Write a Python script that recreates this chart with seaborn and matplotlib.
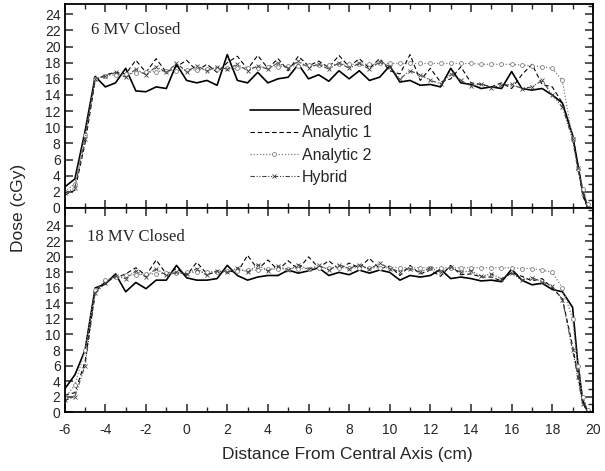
import numpy as np
import pandas as pd
import matplotlib
matplotlib.use('Agg')
import matplotlib.pyplot as plt
from matplotlib.ticker import MultipleLocator
import seaborn as sns

# Sample positions (cm from central axis)
x_cm = [-6, -5.5, -5, -4.5, -4, -3.5, -3, -2.5, -2, -1.5, -1, -0.5, 0, 0.5, 1, 1.5,
        2, 2.5, 3, 3.5, 4, 4.5, 5, 5.5, 6, 6.5, 7, 7.5, 8, 8.5, 9, 9.5, 10, 10.5,
        11, 11.5, 12, 12.5, 13, 13.5, 14, 14.5, 15, 15.5, 16, 16.5, 17, 17.5, 18,
        18.5, 19, 19.25, 19.5, 19.75]

# 6 MV closed
mv6_measured = [2.6, 3.6, 9.5, 16.3, 15.0, 15.5, 17.3, 14.5, 14.4, 15.0, 14.8, 17.8, 15.8, 15.5, 15.8, 15.2,
                19.0, 15.8, 15.5, 16.8, 15.5, 16.0, 16.2, 17.8, 16.0, 16.5, 15.7, 17.0, 16.0, 17.0, 15.8, 16.2,
                17.6, 15.6, 15.8, 15.2, 15.3, 15.0, 17.3, 15.5, 15.3, 14.8, 15.0, 14.8, 16.9, 14.8, 14.6, 14.8,
                14.0, 13.0, 9.0, 5.5, 2.0, 0.0]
mv6_analytic1 = [1.6, 2.2, 8.0, 15.8, 16.5, 16.8, 16.6, 18.3, 16.8, 18.5, 16.8, 17.5, 18.3, 17.0, 17.8, 16.8,
                 18.0, 18.8, 17.2, 18.9, 17.3, 18.5, 17.0, 18.8, 17.6, 18.2, 17.4, 18.9, 17.5, 18.5, 17.3, 18.5,
                 17.0, 16.6, 19.0, 15.8, 17.3, 15.6, 16.0, 17.5, 15.5, 15.3, 15.0, 15.5, 14.8, 16.5, 17.8, 15.3,
                 15.0, 13.0, 9.0, 5.5, 1.5, 0.0]
mv6_analytic2 = [2.0, 3.0, 9.0, 16.0, 16.4, 16.5, 16.6, 16.7, 16.8, 16.9, 17.0, 17.0, 17.1, 17.1, 17.2, 17.2,
                 17.3, 17.3, 17.4, 17.4, 17.5, 17.5, 17.6, 17.6, 17.7, 17.7, 17.7, 17.8, 17.8, 17.8, 17.8, 17.9,
                 17.9, 17.9, 17.9, 17.9, 17.9, 17.9, 17.9, 17.9, 17.9, 17.8, 17.8, 17.8, 17.8, 17.7, 17.6, 17.5,
                 17.3, 15.8, 8.5, 4.8, 2.4, 0.5]
mv6_hybrid = [1.8, 2.5, 8.5, 16.0, 16.3, 16.8, 16.2, 17.2, 16.5, 17.5, 16.8, 17.9, 16.9, 17.6, 17.0, 17.5,
              17.2, 17.8, 17.0, 17.6, 17.2, 18.0, 17.3, 18.2, 17.4, 17.8, 17.2, 18.0, 17.3, 17.9, 17.2, 18.1,
              17.5, 16.0, 17.0, 16.5, 15.8, 15.4, 16.6, 15.8, 15.1, 15.4, 14.9, 15.2, 15.3, 14.8, 15.0, 15.8,
              14.0, 12.5, 8.5, 5.0, 1.8, 0.0]

# 18 MV closed
mv18_measured = [3.0, 4.8, 8.0, 16.0, 16.5, 17.8, 15.5, 16.7, 15.9, 17.0, 17.0, 18.9, 17.3, 17.0, 17.0, 17.2,
                 18.9, 17.6, 17.0, 17.4, 17.6, 17.6, 18.3, 17.9, 18.2, 18.6, 17.6, 18.0, 17.7, 18.3, 17.9, 18.3,
                 18.0, 17.0, 17.6, 17.4, 17.6, 18.4, 17.2, 17.4, 17.2, 16.9, 17.0, 16.8, 18.4, 17.0, 16.4, 16.6,
                 15.8, 15.5, 13.5, 6.5, 1.5, 0.0]
mv18_analytic1 = [2.2, 2.5, 6.5, 15.5, 16.8, 17.3, 17.8, 18.6, 17.6, 19.6, 17.8, 18.5, 17.6, 19.3, 17.8, 18.0,
                  18.2, 18.0, 20.2, 18.4, 19.6, 18.3, 19.5, 18.4, 20.0, 18.6, 19.5, 18.4, 19.2, 18.6, 19.8, 18.5,
                  18.8, 17.6, 18.9, 17.8, 18.3, 17.5, 18.9, 17.7, 17.8, 17.4, 17.4, 16.9, 18.0, 17.5, 16.9, 17.2,
                  16.0, 14.6, 8.5, 5.0, 1.2, 0.0]
mv18_analytic2 = [1.8, 3.5, 8.0, 15.7, 17.0, 17.4, 17.6, 17.7, 17.8, 17.8, 17.9, 17.9, 18.0, 18.0, 18.1, 18.1,
                  18.2, 18.2, 18.3, 18.3, 18.4, 18.4, 18.5, 18.5, 18.5, 18.6, 18.6, 18.6, 18.6, 18.6, 18.6, 18.6,
                  18.6, 18.6, 18.6, 18.6, 18.6, 18.6, 18.6, 18.6, 18.6, 18.6, 18.6, 18.6, 18.6, 18.5, 18.5, 18.3,
                  18.0, 16.0, 12.0, 6.0, 2.0, 0.3]
mv18_hybrid = [1.5, 2.0, 6.0, 15.3, 16.6, 17.5, 17.2, 18.2, 17.4, 18.5, 17.6, 18.0, 17.8, 18.5, 17.6, 18.2,
               18.0, 18.6, 18.0, 19.0, 18.2, 18.8, 18.3, 19.0, 18.4, 18.9, 18.3, 19.0, 18.5, 19.0, 18.4, 19.2,
               18.5, 18.1, 18.5, 18.0, 18.6, 18.0, 18.7, 18.0, 18.2, 17.5, 17.8, 17.2, 17.9, 17.0, 17.3, 16.8,
               16.2, 14.5, 8.0, 4.5, 1.0, 0.0]

labels = ['Measured', 'Analytic 1', 'Analytic 2', 'Hybrid']
panels = [('6 MV Closed', [mv6_measured, mv6_analytic1, mv6_analytic2, mv6_hybrid]),
          ('18 MV Closed', [mv18_measured, mv18_analytic1, mv18_analytic2, mv18_hybrid])]

styles = [dict(color='black', linestyle='-', linewidth=1.2),
          dict(color='black', linestyle=(0, (4, 2.5)), linewidth=0.8),
          dict(color='#808080', linestyle=(0, (1, 1.5)), linewidth=0.9),
          dict(color='#444444', linestyle=(0, (4, 1.5, 1, 1.5, 1, 1.5)), linewidth=0.8)]
markers = [None, None, 'o', 'x']

sns.set_style('ticks')
plt.rcParams['font.family'] = ['Liberation Sans', 'DejaVu Sans']
plt.rcParams['axes.unicode_minus'] = False

fig, axes = plt.subplots(2, 1, figsize=(6.05, 4.71), dpi=100, sharex=True)
fig.subplots_adjust(left=0.107, right=0.98, top=0.992, bottom=0.125, hspace=0)

ylims = [25.3, 26.3]
title_pos = [(0.049, 0.872), (0.042, 0.859)]

for i, (ax, (title, series)) in enumerate(zip(axes, panels)):
    for lab, vals, st, mk in zip(labels, series, styles, markers):
        sns.lineplot(x=x_cm, y=vals, ax=ax, label=lab, sort=False, **st)
        if mk is not None:
            line = ax.get_lines()[-1]
            line.set_marker(mk)
            line.set_markersize(2.8)
            line.set_markerfacecolor('white' if mk == 'o' else st['color'])
            line.set_markeredgecolor(st['color'])
            line.set_markeredgewidth(0.6)
    ax.set_xlim(-6, 20)
    ax.set_ylim(0, ylims[i])
    ax.xaxis.set_major_locator(MultipleLocator(2))
    ax.xaxis.set_minor_locator(MultipleLocator(1))
    ax.yaxis.set_major_locator(MultipleLocator(2))
    ax.yaxis.set_minor_locator(MultipleLocator(1))
    ax.tick_params(which='major', direction='in', top=True, right=True, length=6, width=1.1,
                   labelsize=10, pad=3)
    ax.tick_params(axis='x', which='major', pad=8)
    ax.tick_params(which='minor', direction='in', top=True, right=True, left=False, length=3.5, width=1.0)
    ax.set_yticks(range(0, 25, 2))
    for sp in ax.spines.values():
        sp.set_linewidth(1.3)
        sp.set_color('black')
    ax.text(title_pos[i][0], title_pos[i][1], title, transform=ax.transAxes, va='center', ha='left',
            fontsize=12, family=['Liberation Serif', 'DejaVu Serif'])
    ax.set_xlabel('')
    ax.set_ylabel('')
    if i == 0:
        ax.legend(loc='center left', bbox_to_anchor=(0.335, 0.313), frameon=False, fontsize=11.5,
                  handlelength=3.1, handletextpad=0.15, labelspacing=0.45, numpoints=1, borderpad=0)
    else:
        ax.get_legend().remove()

axes[1].set_xticks(range(-6, 21, 2))
axes[0].tick_params(labelbottom=False)

fig.text(0.03, 0.558, 'Dose (cGy)', rotation=90, ha='center', va='center', fontsize=12.5)
fig.text(0.574, 0.034, 'Distance From Central Axis (cm)', ha='center', va='center', fontsize=12.5)

fig.savefig('out.png', dpi=100)
